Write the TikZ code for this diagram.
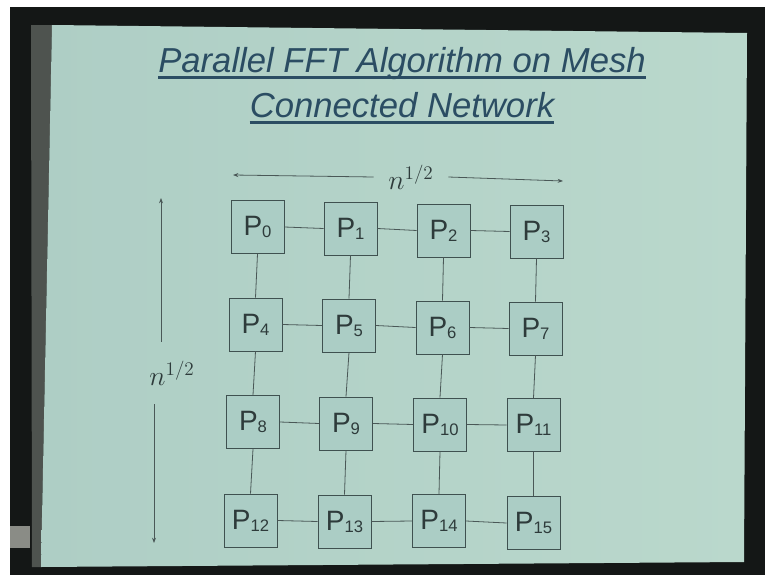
\documentclass[tikz,border=0pt]{standalone}
\usepackage{fontspec}
\setmainfont{Liberation Sans}
\usetikzlibrary{arrows.meta}
\definecolor{framec}{HTML}{141716}
\definecolor{stripc}{HTML}{4E534F}
\definecolor{patchc}{HTML}{8A8C86}
\definecolor{slideL}{HTML}{AECEC5}
\definecolor{slideM}{HTML}{D2EADE}
\definecolor{slideR}{HTML}{BAD8CC}
\definecolor{boxfill}{HTML}{ABCDC5}
\definecolor{boxline}{HTML}{3F5150}
\definecolor{linkc}{HTML}{4A5857}
\definecolor{labelc}{HTML}{2E3B3B}
\definecolor{titlec}{HTML}{2B4D63}
\newcommand\procl[1]{P\raisebox{-1.5pt}{\fontsize{12.5}{13}\selectfont #1}}
\begin{document}
\begin{tikzpicture}[x=0.75pt,y=-0.75pt,
  box/.style={draw=boxline, fill=boxfill, line width=0.7pt, minimum width=39.75pt, minimum height=39.75pt, inner sep=0pt, text=labelc, font=\fontsize{21}{21}\selectfont},
  link/.style={draw=linkc, line width=0.6pt},
  dim/.style={draw=linkc, line width=0.6pt, -{Stealth[length=4pt,width=3pt]}},
  dimlbl/.style={text=labelc, font=\fontsize{20}{24}\selectfont, inner sep=0pt},
  titletext/.style={text=titlec, font=\fontsize{26}{26}\selectfont\itshape, inner sep=0pt},
  uline/.style={draw=titlec, line width=2.2pt},
]
\useasboundingbox (0,0) rectangle (765,575);
\fill[white] (0,0) rectangle (765,575);
\fill[framec] (10,7) rectangle (765,575);
\fill[stripc] (31,25) -- (52,25) -- (41,567) -- (32,567) -- cycle;
\fill[patchc] (10,526) rectangle (30,548);
\shade[left color=slideL, middle color=slideM, right color=slideR] (52,25) -- (747,33) -- (744,562) -- (41,567) -- cycle;

% title
\node[titletext, anchor=base] (t1) at (402,72) {Parallel FFT Algorithm on Mesh};
\node[titletext, anchor=base] (t2) at (402,117) {Connected Network};
\draw[uline] ([yshift=-3.8pt]t1.base west) -- ([yshift=-3.8pt]t1.base east);
\draw[uline] ([yshift=-3.8pt]t2.base west) -- ([yshift=-3.8pt]t2.base east);

% processors
\node[box] (p0) at (257.5,227) {\procl{0}};
\node[box] (p1) at (350.5,228.5) {\procl{1}};
\node[box] (p2) at (443.5,230.5) {\procl{2}};
\node[box] (p3) at (536.5,231.5) {\procl{3}};
\node[box] (p4) at (255.5,324.5) {\procl{4}};
\node[box] (p5) at (349,325.5) {\procl{5}};
\node[box] (p6) at (442.5,327.5) {\procl{6}};
\node[box] (p7) at (535.5,328.5) {\procl{7}};
\node[box] (p8) at (253,422) {\procl{8}};
\node[box] (p9) at (346,423.5) {\procl{9}};
\node[box] (p10) at (440,424.5) {\procl{10}};
\node[box] (p11) at (533.5,425) {\procl{11}};
\node[box] (p12) at (250.5,520.5) {\procl{12}};
\node[box] (p13) at (344.5,521.5) {\procl{13}};
\node[box] (p14) at (439,521) {\procl{14}};
\node[box] (p15) at (533.5,523) {\procl{15}};

% links
\foreach \a/\b in {p0/p1,p1/p2,p2/p3,p4/p5,p5/p6,p6/p7,p8/p9,p9/p10,p10/p11,p12/p13,p13/p14,p14/p15}
  \draw[link] (\a.east) -- (\b.west);
\foreach \a/\b in {p0/p4,p4/p8,p8/p12,p1/p5,p5/p9,p9/p13,p2/p6,p6/p10,p10/p14,p3/p7,p7/p11,p11/p15}
  \draw[link] (\a.south) -- (\b.north);

% dimensions
\node[dimlbl, inner xsep=11pt] (nh) at (411,177) {$n^{1/2}$};
\coordinate (hl) at (233,175);
\coordinate (hr) at (563,181);
\draw[dim] (nh.west) -- (hl);
\draw[dim] (nh.east) -- (hr);
\node[dimlbl, inner ysep=14pt] (nv) at (172,373) {$n^{1/2}$};
\coordinate (vtop) at (161,198);
\coordinate (vbot) at (154,543);
\draw[dim] (nv.north -| vtop) -- (vtop);
\draw[dim] (nv.south -| vbot) -- (vbot);
\end{tikzpicture}
\end{document}
